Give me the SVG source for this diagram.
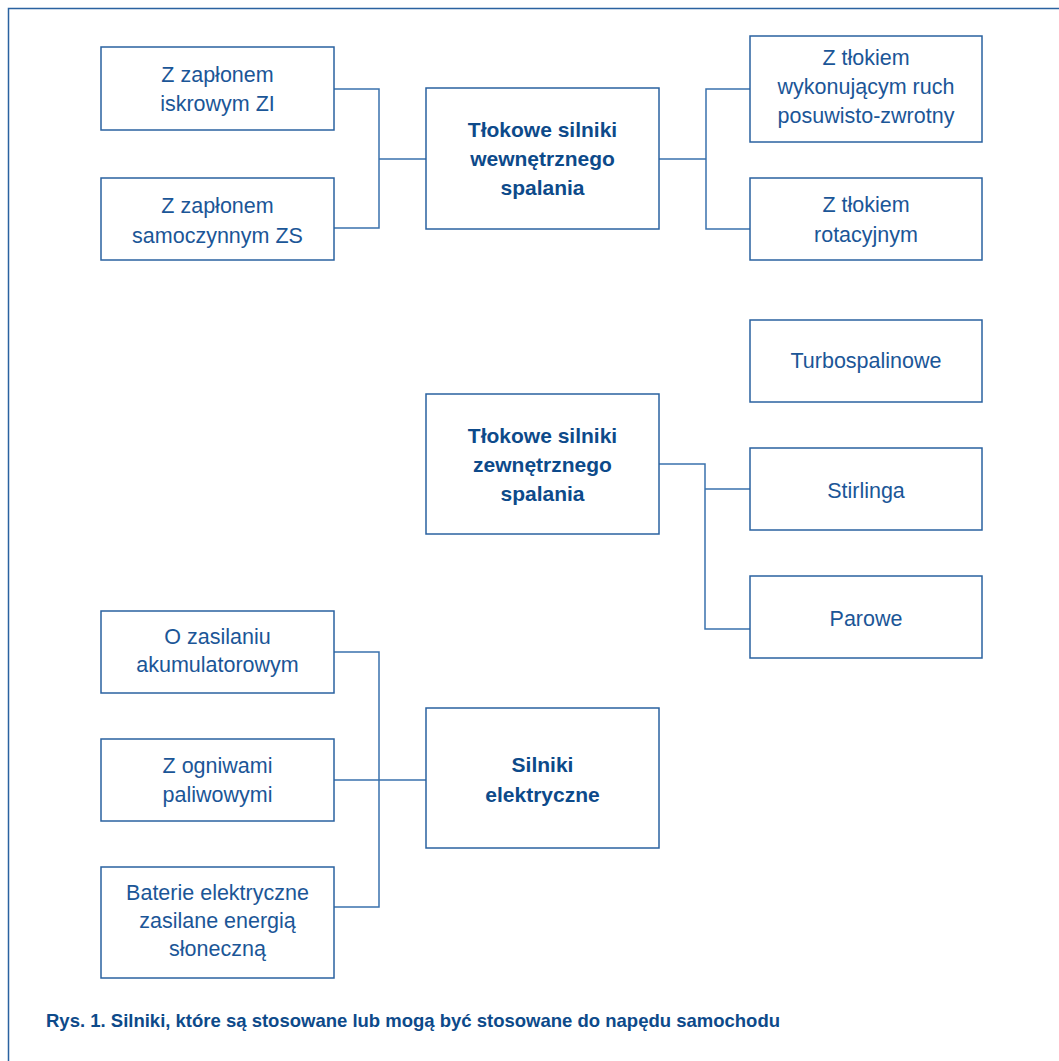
<svg xmlns="http://www.w3.org/2000/svg" width="1059" height="1061" viewBox="0 0 1059 1061">
<style>
.box{fill:#fff;stroke:#2a62a0;stroke-width:1.5}
.ln{fill:none;stroke:#3a72ad;stroke-width:1.5}
.t{font-family:"Liberation Sans",Arial,sans-serif;font-size:21.5px;fill:#1b5697;text-anchor:middle}
.b{font-family:"Liberation Sans",Arial,sans-serif;font-size:21px;font-weight:bold;fill:#0d4a8a;text-anchor:middle}
.cap{font-family:"Liberation Sans",Arial,sans-serif;font-size:18.5px;font-weight:bold;fill:#0d4a8a}
</style>
<rect width="1059" height="1061" fill="#fff"/>
<path d="M8.5,1061 V8.5 H1059" fill="none" stroke="#2a62a0" stroke-width="1.5"/>
<g id="connectors">
<path class="ln" d="M334,89 H379 V228 H334 M379,159 H426"/>
<path class="ln" d="M659,159 H706 M750,89 H706 V229 H750"/>
<path class="ln" d="M659,464 H705 V629 H750 M705,489 H750"/>
<path class="ln" d="M334,652 H379 V907 H334 M334,780 H426"/>
</g>
<g id="zi"><rect class="box" x="101" y="47" width="233" height="83"/><text class="t" x="217.5" y="82">Z zapłonem</text><text class="t" x="217.5" y="111">iskrowym ZI</text></g>
<g id="zs"><rect class="box" x="101" y="178" width="233" height="82"/><text class="t" x="217.5" y="213">Z zapłonem</text><text class="t" x="217.5" y="243">samoczynnym ZS</text></g>
<g id="wew"><rect class="box" x="426" y="88" width="233" height="141"/><text class="b" x="542.5" y="137">Tłokowe silniki</text><text class="b" x="542.5" y="166">wewnętrznego</text><text class="b" x="542.5" y="195">spalania</text></g>
<g id="posuw"><rect class="box" x="750" y="36" width="232" height="106"/><text class="t" x="866" y="65">Z tłokiem</text><text class="t" x="866" y="94">wykonującym ruch</text><text class="t" x="866" y="123">posuwisto-zwrotny</text></g>
<g id="rot"><rect class="box" x="750" y="178" width="232" height="82"/><text class="t" x="866" y="212">Z tłokiem</text><text class="t" x="866" y="242">rotacyjnym</text></g>
<g id="turbo"><rect class="box" x="750" y="320" width="232" height="82"/><text class="t" x="866" y="368">Turbospalinowe</text></g>
<g id="zew"><rect class="box" x="426" y="394" width="233" height="140"/><text class="b" x="542.5" y="443">Tłokowe silniki</text><text class="b" x="542.5" y="472">zewnętrznego</text><text class="b" x="542.5" y="501">spalania</text></g>
<g id="stirling"><rect class="box" x="750" y="448" width="232" height="82"/><text class="t" x="866" y="498">Stirlinga</text></g>
<g id="parowe"><rect class="box" x="750" y="576" width="232" height="82"/><text class="t" x="866" y="626">Parowe</text></g>
<g id="akum"><rect class="box" x="101" y="611" width="233" height="82"/><text class="t" x="217.5" y="644">O zasilaniu</text><text class="t" x="217.5" y="672">akumulatorowym</text></g>
<g id="ogniwa"><rect class="box" x="101" y="739" width="233" height="82"/><text class="t" x="217.5" y="773">Z ogniwami</text><text class="t" x="217.5" y="802">paliwowymi</text></g>
<g id="baterie"><rect class="box" x="101" y="867" width="233" height="111"/><text class="t" x="217.5" y="900">Baterie elektryczne</text><text class="t" x="217.5" y="928">zasilane energią</text><text class="t" x="217.5" y="956">słoneczną</text></g>
<g id="elek"><rect class="box" x="426" y="708" width="233" height="140"/><text class="b" x="542.5" y="772">Silniki</text><text class="b" x="542.5" y="802">elektryczne</text></g>
<text class="cap" x="46" y="1027">Rys. 1. Silniki, które są stosowane lub mogą być stosowane do napędu samochodu</text>
</svg>
